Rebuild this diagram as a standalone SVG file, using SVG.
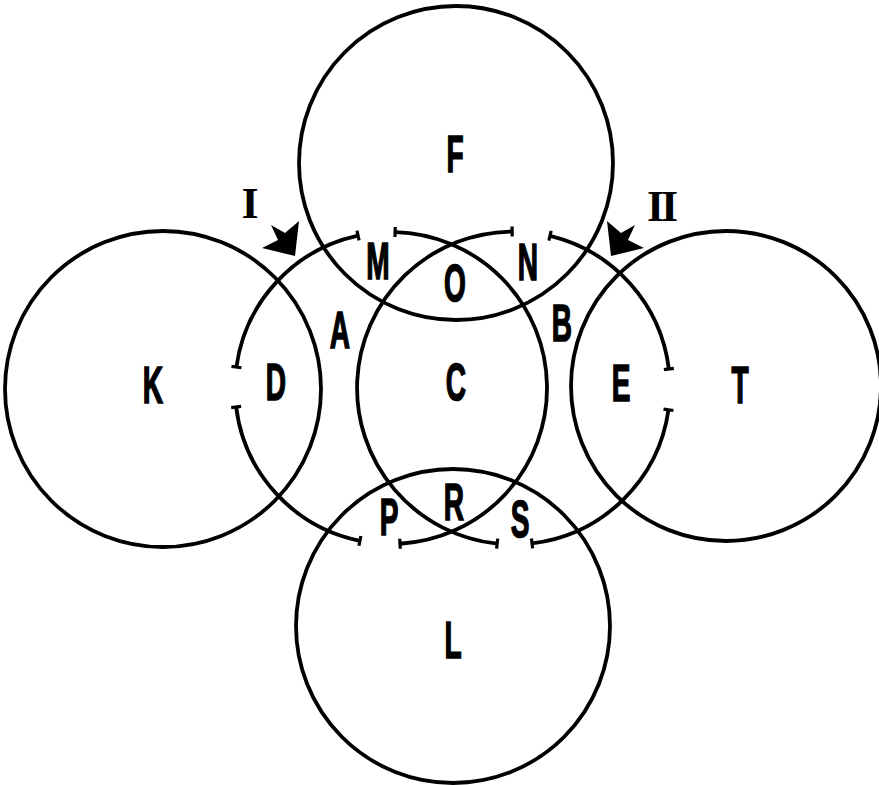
<svg xmlns="http://www.w3.org/2000/svg" width="879" height="785" viewBox="0 0 879 785">
<style>
.c{fill:none;stroke:#000;stroke-width:3.8}
.t{fill:none;stroke:#000;stroke-width:3.2;stroke-linecap:butt}
.lbl{font-family:"Liberation Sans",Arial,sans-serif;font-weight:bold;font-size:51px;text-anchor:middle;fill:#000;stroke:#000;stroke-width:1.6}
.rn{font-family:"Liberation Serif","Times New Roman",serif;font-weight:bold;font-size:44px;text-anchor:middle;fill:#000}
</style>
<defs>
<polygon id="arr" points="295,256 262,248 278,240 271,225 285,233 299,221"/>
</defs>
<rect width="879" height="785" fill="#fff"/>
<g id="big-circles">
<circle id="circle-F" class="c" cx="456" cy="163" r="157"/>
<circle id="circle-K" class="c" cx="163" cy="389" r="158"/>
<circle id="circle-T" class="c" cx="726" cy="386" r="155"/>
<circle id="circle-L" class="c" cx="453" cy="626" r="157"/>
</g>
<g id="connectors">
<path class="c" d="M395.08,232.05 A156,156 0 0 1 399.98,543.74"/>
<path class="c" d="M359.90,540.87 A156,156 0 0 1 236.16,407.01"/>
<path class="c" d="M236.41,367.10 A156,156 0 0 1 358.03,235.52"/>
<path class="c" d="M550.03,235.82 A156.5,156.5 0 0 1 668.83,368.93"/>
<path class="c" d="M668.48,409.78 A156.5,156.5 0 0 1 532.03,543.40"/>
<path class="c" d="M497.14,543.64 A156.5,156.5 0 0 1 512.13,231.51"/>
<g id="ticks">
<line class="t" x1="394.95" y1="237.05" x2="395.21" y2="227.05"/>
<line class="t" x1="399.7" y1="538.75" x2="400.27" y2="548.73"/>
<line class="t" x1="360.9" y1="535.97" x2="358.9" y2="545.77"/>
<line class="t" x1="241.12" y1="406.4" x2="231.2" y2="407.62"/>
<line class="t" x1="241.37" y1="367.77" x2="231.46" y2="366.43"/>
<line class="t" x1="359.09" y1="240.41" x2="356.97" y2="230.63"/>
<line class="t" x1="548.86" y1="240.68" x2="551.2" y2="230.96"/>
<line class="t" x1="663.87" y1="369.54" x2="673.79" y2="368.32"/>
<line class="t" x1="663.53" y1="409.08" x2="673.43" y2="410.48"/>
<line class="t" x1="531.44" y1="538.44" x2="532.62" y2="548.36"/>
<line class="t" x1="497.66" y1="538.67" x2="496.62" y2="548.61"/>
<line class="t" x1="512.17" y1="236.51" x2="512.09" y2="226.51"/>
</g>
<use id="arrow-I" href="#arr"/>
<use id="arrow-II" href="#arr" transform="translate(906,0) scale(-1,1)"/>
</g>
<g id="node-F" transform="translate(455,172) scale(0.55,1)"><text class="lbl">F</text></g>
<g id="node-K" transform="translate(153,403) scale(0.55,1)"><text class="lbl">K</text></g>
<g id="node-D" transform="translate(276,400) scale(0.55,1)"><text class="lbl">D</text></g>
<g id="node-A" transform="translate(340,348) scale(0.55,1)"><text class="lbl">A</text></g>
<g id="node-M" transform="translate(378,279) scale(0.55,1)"><text class="lbl">M</text></g>
<g id="node-O" transform="translate(455,301) scale(0.55,1)"><text class="lbl">O</text></g>
<g id="node-N" transform="translate(528,280) scale(0.55,1)"><text class="lbl">N</text></g>
<g id="node-B" transform="translate(562,341) scale(0.55,1)"><text class="lbl">B</text></g>
<g id="node-C" transform="translate(456,400) scale(0.55,1)"><text class="lbl">C</text></g>
<g id="node-E" transform="translate(621,401) scale(0.55,1)"><text class="lbl">E</text></g>
<g id="node-T" transform="translate(740,403) scale(0.55,1)"><text class="lbl">T</text></g>
<g id="node-P" transform="translate(389,535) scale(0.55,1)"><text class="lbl">P</text></g>
<g id="node-R" transform="translate(454,520) scale(0.55,1)"><text class="lbl">R</text></g>
<g id="node-S" transform="translate(520,537) scale(0.55,1)"><text class="lbl">S</text></g>
<g id="node-L" transform="translate(453,658) scale(0.55,1)"><text class="lbl">L</text></g>
<g id="label-I"><text class="rn" x="250" y="218">I</text></g>
<g id="label-II"><text class="rn" x="661" y="221" letter-spacing="-3">II</text></g>
</svg>
